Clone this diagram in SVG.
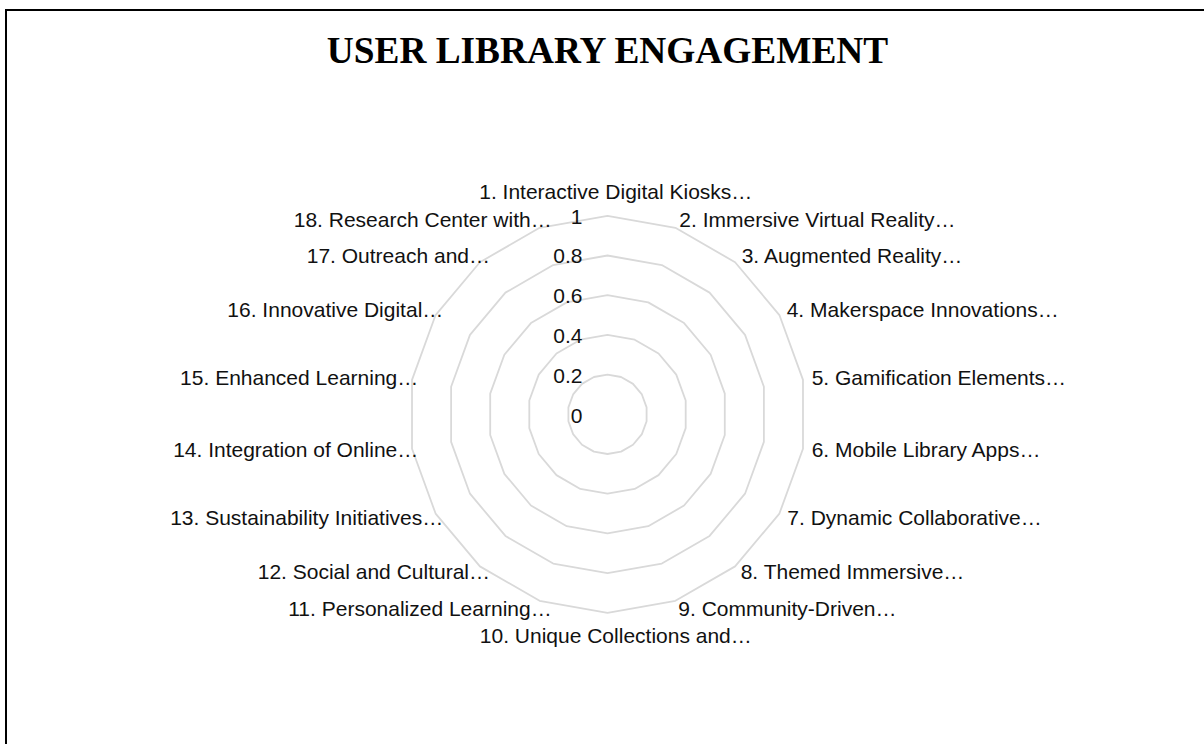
<svg xmlns="http://www.w3.org/2000/svg" width="1204" height="744" viewBox="0 0 1204 744">
<style>
.ring{fill:none;stroke:#d9d9d9;stroke-width:1.8;stroke-linejoin:round}
.lbl{font-family:"Liberation Sans",Arial,sans-serif;font-size:21px;fill:#111}
.ax{font-family:"Liberation Sans",Arial,sans-serif;font-size:21px;fill:#111;text-anchor:end}
.s{text-anchor:start}.e{text-anchor:end}.m{text-anchor:middle}
.title{font-family:"Liberation Serif","Times New Roman",serif;font-size:37.33px;font-weight:bold;fill:#000;text-anchor:middle}
</style>
<rect x="0" y="0" width="1204" height="744" fill="#fff"/>
<rect id="frame" x="6" y="10" width="1210" height="750" fill="none" stroke="#000" stroke-width="2"/>
<text id="title" class="title" x="607.5" y="63">USER LIBRARY ENGAGEMENT</text>
<g id="grid" transform="translate(607.5,414.3)">
<polygon class="ring" points="0,-39.7 13.578,-37.306 25.519,-30.412 34.381,-19.85 39.097,-6.894 39.097,6.894 34.381,19.85 25.519,30.412 13.578,37.306 0,39.7 -13.578,37.306 -25.519,30.412 -34.381,19.85 -39.097,6.894 -39.097,-6.894 -34.381,-19.85 -25.519,-30.412 -13.578,-37.306"/>
<polygon class="ring" points="0,-79.4 27.156,-74.611 51.038,-60.824 68.763,-39.7 78.194,-13.788 78.194,13.788 68.763,39.7 51.038,60.824 27.156,74.611 0,79.4 -27.156,74.611 -51.038,60.824 -68.763,39.7 -78.194,13.788 -78.194,-13.788 -68.763,-39.7 -51.038,-60.824 -27.156,-74.611"/>
<polygon class="ring" points="0,-119.1 40.735,-111.917 76.556,-91.235 103.144,-59.55 117.291,-20.682 117.291,20.682 103.144,59.55 76.556,91.235 40.735,111.917 0,119.1 -40.735,111.917 -76.556,91.235 -103.144,59.55 -117.291,20.682 -117.291,-20.682 -103.144,-59.55 -76.556,-91.235 -40.735,-111.917"/>
<polygon class="ring" points="0,-158.8 54.313,-149.223 102.075,-121.647 137.526,-79.4 156.388,-27.576 156.388,27.576 137.526,79.4 102.075,121.647 54.313,149.223 0,158.8 -54.313,149.223 -102.075,121.647 -137.526,79.4 -156.388,27.576 -156.388,-27.576 -137.526,-79.4 -102.075,-121.647 -54.313,-149.223"/>
<polygon class="ring" points="0,-198.5 67.891,-186.528 127.594,-152.059 171.907,-99.25 195.485,-34.47 195.485,34.47 171.907,99.25 127.594,152.059 67.891,186.528 0,198.5 -67.891,186.528 -127.594,152.059 -171.907,99.25 -195.485,34.47 -195.485,-34.47 -171.907,-99.25 -127.594,-152.059 -67.891,-186.528"/>
</g>
<g id="axis-labels">
<text class="ax" x="582.5" y="224">1</text>
<text class="ax" x="582.5" y="263.3">0.8</text>
<text class="ax" x="582.5" y="303.3">0.6</text>
<text class="ax" x="582.5" y="342.7">0.4</text>
<text class="ax" x="582.5" y="382.7">0.2</text>
<text class="ax" x="582.5" y="422.7">0</text>
</g>
<g id="categories">
<g id="cat1"><text class="lbl m" x="615.8" y="199.3">1. Interactive Digital Kiosks…</text></g>
<g id="cat2"><text class="lbl s" x="679.3" y="226.7">2. Immersive Virtual Reality…</text></g>
<g id="cat3"><text class="lbl s" x="741.7" y="263.3">3. Augmented Reality…</text></g>
<g id="cat4"><text class="lbl s" x="786.7" y="316.7">4. Makerspace Innovations…</text></g>
<g id="cat5"><text class="lbl s" x="811.7" y="385">5. Gamification Elements…</text></g>
<g id="cat6"><text class="lbl s" x="811.7" y="457.3">6. Mobile Library Apps…</text></g>
<g id="cat7"><text class="lbl s" x="787.3" y="525">7. Dynamic Collaborative…</text></g>
<g id="cat8"><text class="lbl s" x="740.7" y="579.3">8. Themed Immersive…</text></g>
<g id="cat9"><text class="lbl s" x="678.3" y="616">9. Community-Driven…</text></g>
<g id="cat10"><text class="lbl m" x="615.8" y="643.3">10. Unique Collections and…</text></g>
<g id="cat11"><text class="lbl e" x="551.7" y="616">11. Personalized Learning…</text></g>
<g id="cat12"><text class="lbl e" x="490" y="579.3">12. Social and Cultural…</text></g>
<g id="cat13"><text class="lbl e" x="443.3" y="525">13. Sustainability Initiatives…</text></g>
<g id="cat14"><text class="lbl e" x="418.3" y="457.3">14. Integration of Online…</text></g>
<g id="cat15"><text class="lbl e" x="418.3" y="385">15. Enhanced Learning…</text></g>
<g id="cat16"><text class="lbl e" x="443.3" y="316.7">16. Innovative Digital…</text></g>
<g id="cat17"><text class="lbl e" x="490" y="263.3">17. Outreach and…</text></g>
<g id="cat18"><text class="lbl e" x="551.7" y="226.7">18. Research Center with…</text></g>
</g>
</svg>
